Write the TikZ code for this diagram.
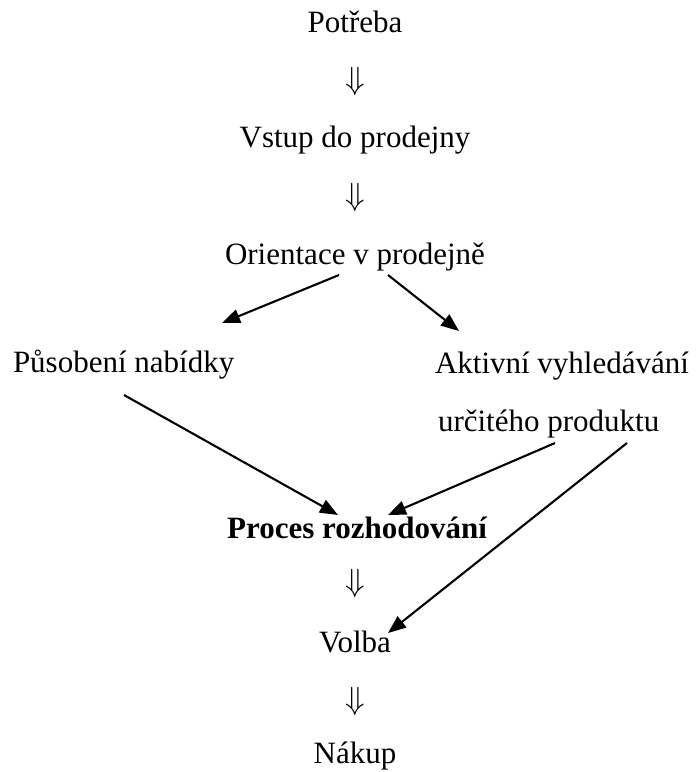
\documentclass[tikz,border=0pt]{standalone}
\usepackage{graphicx}
\usepackage{fontspec}
\setmainfont{Liberation Serif}
\usetikzlibrary{arrows.meta,calc}
\newcommand{\bigdn}{\scalebox{3.2}{$\Downarrow$}}
\begin{document}
\begin{tikzpicture}[x=1pt,y=-1pt,
  lbl/.style={inner sep=0pt,outer sep=0pt,font=\fontsize{31}{36}\selectfont},
  dn/.style={inner sep=0pt,outer sep=0pt},
  arr/.style={line width=2.1pt,-{Triangle[length=18pt,width=14pt]}}]
\useasboundingbox (0,0) rectangle (699,772);
\node[lbl,anchor=base] (potreba) at (355,32) {Potřeba};
\node[dn] (d1) at (355,81) {\bigdn};
\node[lbl,anchor=base] (vstup) at (355,147) {Vstup do prodejny};
\node[dn] (d2) at (355,197) {\bigdn};
\node[lbl,anchor=base] (orient) at (355,264) {Orientace v prodejně};
\node[lbl,anchor=base west] (pus) at (13,372) {Působení nabídky};
\node[lbl,anchor=base west] (akt) at (435,373) {Aktivní vyhledávání};
\node[lbl,anchor=base west] (urc) at (438,431) {určitého produktu};
\node[lbl,anchor=base,font=\fontsize{31}{36}\selectfont\bfseries] (proces) at (357,538) {Proces rozhodování};
\node[dn] (d3) at (355,583) {\bigdn};
\node[lbl,anchor=base] (volba) at (355,652) {Volba};
\node[dn] (d4) at (355,701) {\bigdn};
\node[lbl,anchor=base] (nakup) at (355,763) {Nákup};
\draw[arr] ($(orient.base)+(-16,11)$) -- ($(pus.base west)+(209,-49)$);
\draw[arr] ($(orient.base)+(33,11)$) -- ($(akt.base west)+(24,-42)$);
\draw[arr] ($(pus.base west)+(111,23)$) -- ($(proces.base)+(-19,-23)$);
\draw[arr] ($(urc.base west)+(117,12)$) -- ($(proces.base)+(31,-23)$);
\draw[arr] ($(urc.base west)+(189,12)$) -- ($(volba.base)+(33,-19)$);
\end{tikzpicture}
\end{document}
